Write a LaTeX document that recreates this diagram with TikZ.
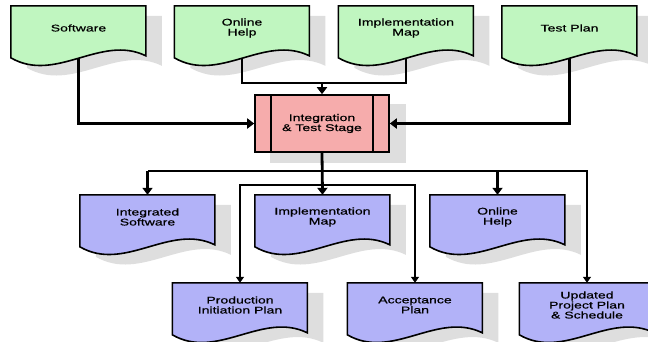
\documentclass[tikz,border=0pt]{standalone}
\usepackage{fontspec}
\setmainfont{Liberation Sans}[FakeStretch=1.45,FakeBold=0.6]
\usepackage{tikz}
\usetikzlibrary{arrows.meta,positioning,calc}

\definecolor{docgreen}{RGB}{192,246,192}
\definecolor{docblue}{RGB}{178,178,248}
\definecolor{stagepink}{RGB}{246,172,172}
\definecolor{shadowgray}{RGB}{222,222,222}

\pgfdeclarelayer{shadow}
\pgfdeclarelayer{wires}
\pgfdeclarelayer{shapes}
\pgfsetlayers{shadow,wires,shapes,main}

\tikzset{
  docnode/.style={minimum width=135pt,minimum height=44pt,inner sep=0pt,align=center},
  stage/.style={draw,line width=1.6pt,fill=stagepink,minimum width=134pt,minimum height=57pt,inner sep=0pt,align=center},
  docline/.style={line width=1.6pt,line join=miter},
  wire/.style={line width=2.8pt,-{Triangle[width=10pt,length=7pt]}},
  wireline/.style={line width=2.8pt},
  fine/.style={line width=1.3pt,-{Triangle[width=8pt,length=6pt]}},
  fineline/.style={line width=1.3pt},
}

% document symbol with its shadow, placed on the node's north west corner
\newcommand\docshape[2]{%
  \begin{pgfonlayer}{shadow}
    \fill[shadowgray,shift={(#1.north west)},shift={(16,10)}]
      (0,0) -- (135,0) -- (135,50) .. controls (90,28) and (45,78) .. (0,52) -- cycle;
  \end{pgfonlayer}
  \begin{pgfonlayer}{shapes}
    \draw[docline,fill=#2,shift={(#1.north west)}]
      (0,0) -- (135,0) -- (135,50) .. controls (90,28) and (45,78) .. (0,52) -- cycle;
  \end{pgfonlayer}}

\begin{document}
\begin{tikzpicture}[x=1pt,y=-1pt,font=\fontsize{9.7}{10}\selectfont]
\useasboundingbox (0,0) rectangle (648,341);
% ---- inputs ----
\node[docnode] (sw) at (78.5,28) {Software};
\node[docnode] (oh) at (242,28) {Online\\Help};
\node[docnode] (im) at (406,28) {Implementation\\Map};
\node[docnode] (tp) at (569.5,28) {Test Plan};
\foreach \n in {sw,oh,im,tp} {\docshape{\n}{docgreen}}
% ---- stage ----
\node[stage] (intg) at (322,123.5) {Integration\\\& Test Stage};
\begin{pgfonlayer}{shadow}
  \fill[shadowgray] ([shift={(16,10)}]intg.north west) rectangle ([shift={(16,10)}]intg.south east);
\end{pgfonlayer}
\draw[docline] ([xshift=17pt]intg.north west) -- ([xshift=17pt]intg.south west);
\draw[docline] ([xshift=-17pt]intg.north east) -- ([xshift=-17pt]intg.south east);
% ---- outputs ----
\node[docnode] (is) at (147.5,217) {Integrated\\Software};
\node[docnode] (im2) at (322.5,217) {Implementation\\Map};
\node[docnode] (oh2) at (497.5,217) {Online\\Help};
\node[docnode] (pp) at (240,305) {Production\\Initiation Plan};
\node[docnode] (ap) at (415,305) {Acceptance\\Plan};
\node[docnode] (up) at (587,305) {Updated\\Project Plan\\\& Schedule};
\foreach \n in {is,im2,oh2,pp,ap,up} {\docshape{\n}{docblue}}
% ---- connectors ----
\coordinate (jtop) at (322,83);
\coordinate (jbot) at (322,171);
\coordinate (jmid) at (322,185);
\begin{pgfonlayer}{wires}
  \draw[wire] (sw.south) |- (intg.west);
  \draw[wire] (tp.south) |- (intg.east);
  \draw[wireline] (oh.south) |- (jtop) -| (im.south);
  \draw[wire] (jtop) -- (intg.north);
  \draw[wire] (intg.south) -- (im2.north);
  \draw[fineline] (jbot) -- (is.north |- jbot);
  \draw[fine] (jbot) -| (up.north);
  \draw[wire] (is.north |- jbot) -- (is.north);
  \draw[wire] (oh2.north |- jbot) -- (oh2.north);
  \draw[fine] (jmid) -| (pp.north);
  \draw[fine] (jmid) -| (ap.north);
\end{pgfonlayer}
\end{tikzpicture}
\end{document}
